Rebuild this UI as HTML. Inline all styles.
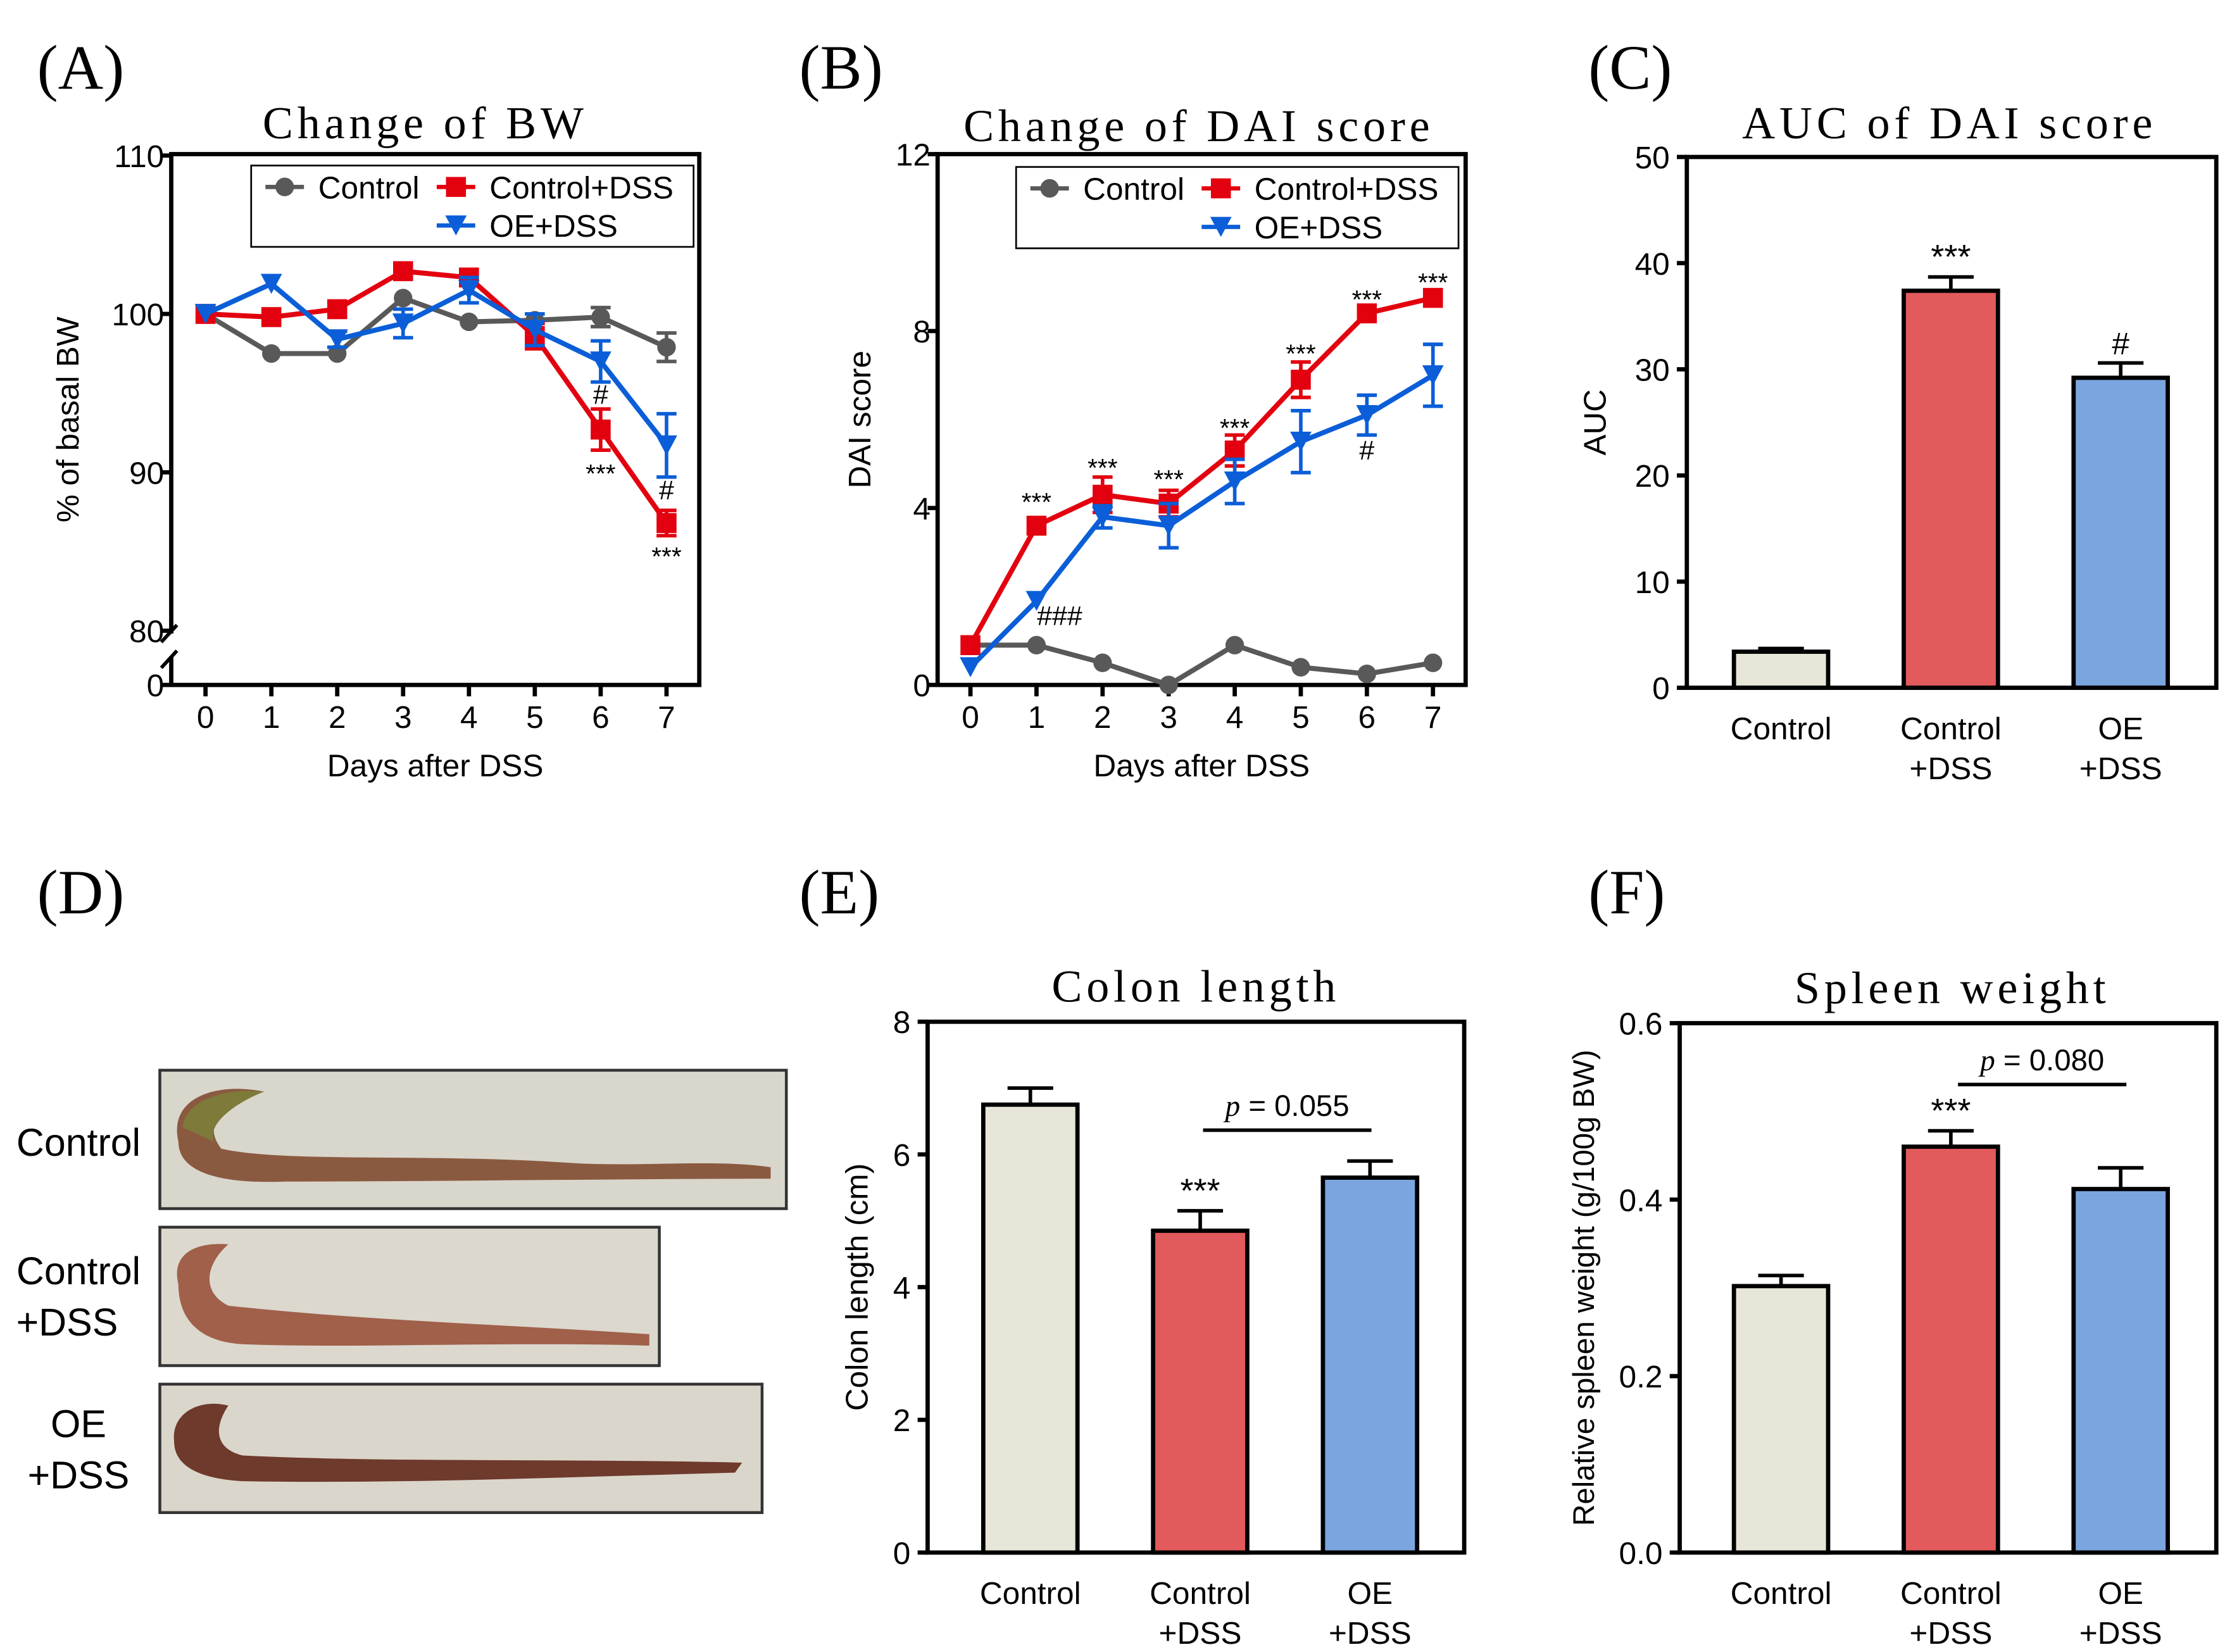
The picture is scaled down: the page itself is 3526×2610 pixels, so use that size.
<!DOCTYPE html>
<html><head><meta charset="utf-8"><style>
html,body{margin:0;padding:0;background:#fff}
svg{display:block}
text{font-family:"Liberation Sans",sans-serif;fill:#000}
.serif{font-family:"Liberation Serif",serif}
</style></head><body>
<svg id="fig" width="3526" height="2610" viewBox="0 0 1564 1157.7" xmlns="http://www.w3.org/2000/svg">
<g>
  <text x="55" y="810" font-size="27" text-anchor="middle">Control</text>
  <text x="55" y="900" font-size="27" text-anchor="middle">Control</text>
  <text x="47" y="936" font-size="27" text-anchor="middle">+DSS</text>
  <text x="55" y="1007" font-size="27" text-anchor="middle">OE</text>
  <text x="55" y="1043" font-size="27" text-anchor="middle">+DSS</text>
  <g>
    <rect x="112" y="750" width="439" height="97" fill="#d9d6cc" stroke="#333" stroke-width="2"/>
    <path d="M125 800 C118 770,150 758,185 765 C160 775,140 785,155 805 C200 815,300 808,400 815 C450 818,500 812,540 818 L540 826 C450 826,300 828,200 828 C150 830,125 820,125 800Z" fill="#8a5a40"/>
    <path d="M128 790 C130 770,160 762,185 765 C160 775,145 790,150 800Z" fill="#7d7a3a"/>
  </g>
  <g>
    <rect x="112" y="860" width="350" height="97" fill="#dcd8ce" stroke="#333" stroke-width="2"/>
    <path d="M125 900 C120 880,135 870,160 872 C145 885,140 905,160 915 C250 925,350 928,455 935 L455 943 C350 940,250 945,170 942 C135 940,125 920,125 900Z" fill="#a0604a"/>
  </g>
  <g>
    <rect x="112" y="970" width="422" height="90" fill="#dbd6cb" stroke="#333" stroke-width="2"/>
    <path d="M122 1010 C120 990,140 980,160 985 C150 1000,150 1015,170 1020 C270 1025,400 1022,520 1025 L515 1032 C400 1035,280 1040,170 1038 C135 1036,122 1025,122 1010Z" fill="#6e3a2c"/>
  </g>
</g>
</svg>
<script>
const NS="http://www.w3.org/2000/svg";
const svg=document.getElementById('fig');
// ---------- data ----------
const days=[0,1,2,3,4,5,6,7];
const bwControl=[100,97.5,97.5,101,99.5,99.6,99.8,97.9];
const bwControlErr=[0,0,0,0,0,0,0.6,0.9];
const bwDSS=[100,99.8,100.3,102.7,102.3,98.6,92.7,86.8];
const bwDSSErr=[0,0,0,0,0.5,0.8,1.3,0.8];
const bwOE=[100,101.9,98.4,99.4,101.5,99.0,97.0,91.7];
const bwOEErr=[0,0,0.5,0.9,0.8,1.0,1.3,2.0];
const bwTicks=[80,90,100,110];
const daiControl=[0.9,0.9,0.5,0,0.9,0.4,0.25,0.5];
const daiDSS=[0.9,3.6,4.3,4.1,5.3,6.9,8.4,8.75];
const daiDSSErr=[0,0,0.4,0.3,0.35,0.4,0,0];
const daiOE=[0.4,1.9,3.8,3.6,4.6,5.5,6.1,7.0];
const daiOEErr=[0,0,0.25,0.5,0.5,0.7,0.45,0.7];
const daiTicks=[0,4,8,12];
const groups=["Control","Control+DSS","OE+DSS"];
const aucVals=[3.4,37.4,29.2];
const aucErr=[0.3,1.3,1.4];
const aucTicks=[0,10,20,30,40,50];
const colonVals=[6.75,4.85,5.65];
const colonErr=[0.25,0.3,0.25];
const colonTicks=[0,2,4,6,8];
const spleenVals=[0.302,0.46,0.412];
const spleenErr=[0.012,0.018,0.024];
const spleenTicks=[0.0,0.2,0.4,0.6];
const GRAY="#595959",RED="#e3000f",BLUE="#0b5ed7";
const BAR=["#e8e6d8","#e25a5c","#7aa5df"];

function el(tag,attrs,parent,txt){const e=document.createElementNS(NS,tag);for(const k in attrs)e.setAttribute(k,attrs[k]);if(txt!==undefined)e.textContent=txt;(parent||svg).appendChild(e);return e;}
function grp(name){const g=el('g',{});return g;}
function txt(g,x,y,s,size,name,anchor,cls){const t=el('text',{x:x,y:y,'font-size':size,'text-anchor':anchor||'middle'},g,s);if(cls)t.setAttribute('class',cls);return t;}
function line(g,x1,y1,x2,y2,c,w,name){const l=el('line',{x1:x1,y1:y1,x2:x2,y2:y2,stroke:c,'stroke-width':w},g);return l;}
function panelLabel(x,y,L){const g=grp('panel-label-'+L.toLowerCase());txt(g,x,y,'('+L+')',44,'panel-label-text','start','serif');}
function title(x,y,s,name){const g=grp(name);const t=txt(g,x,y,s,32,'title-text','middle','serif');t.setAttribute('letter-spacing','3');}

function marker(g,type,x,y,c,name){let m;
 if(type==='o')m=el('circle',{cx:x,cy:y,r:6.5,fill:c},g);
 else if(type==='s')m=el('rect',{x:x-7,y:y-7,width:14,height:14,fill:c},g);
 else m=el('path',{d:`M${x-7.5} ${y-7}L${x+7.5} ${y-7}L${x} ${y+7}Z`,fill:c},g);
 }

function lineChart(o){
 const g=grp(o.name);
 const X=d=>o.x0+d*o.dx;
 const f=el('rect',{x:o.L,y:o.T,width:o.R-o.L,height:o.B-o.T,fill:'none',stroke:'#000','stroke-width':3},g);
 
 o.ticks.forEach(t=>{const y=o.Y(t);line(g,o.L-7,y,o.L,y,'#000',3,'y-tick');txt(g,o.L-5,y+8,String(t),22,'y-tick-label','end');});
 days.forEach(d=>{line(g,X(d),o.B,X(d),o.B+8,'#000',3,'x-tick');txt(g,X(d),o.B+30,String(d),22,'x-tick-label');});
 txt(g,(o.L+o.R)/2,o.B+64,'Days after DSS',22,'x-axis-title');
 const yl=txt(g,0,0,o.ylab,22,'y-axis-title');yl.setAttribute('transform',`translate(${o.ylx},${(o.T+o.B)/2}) rotate(-90)`);
 o.series.forEach(s=>{
  const sg=el('g',{},g);
  const pts=s.v.map((v,i)=>X(days[i])+','+o.Y(v)).join(' ');
  const pl=el('polyline',{points:pts,fill:'none',stroke:s.c,'stroke-width':3.5},sg);
  
  s.v.forEach((v,i)=>{const e=s.e?s.e[i]:0;if(e>0){const x=X(days[i]);line(sg,x,o.Y(v+e),x,o.Y(v-e),s.c,2.5,'error-bar');line(sg,x-7,o.Y(v+e),x+7,o.Y(v+e),s.c,2.5,'error-cap');line(sg,x-7,o.Y(v-e),x+7,o.Y(v-e),s.c,2.5,'error-cap');}
   marker(sg,s.m,X(days[i]),o.Y(v),s.c,'point-'+s.key+'-day'+days[i]);});
 });
 const lg=grp('legend');g.appendChild(lg);
 const lb=el('rect',{x:o.lgx,y:o.lgy,width:310,height:57,fill:'#fff',stroke:'#000','stroke-width':1.2},lg);
 
 [[o.lgx+10,o.lgy+15,GRAY,'o','Control'],[o.lgx+130,o.lgy+15,RED,'s','Control+DSS'],[o.lgx+130,o.lgy+42,BLUE,'v','OE+DSS']].forEach(([x,y,c,m,n])=>{
  const eg=el('g',{},lg);
  line(eg,x,y,x+27,y,c,3,'legend-line');marker(eg,m,x+13.5,y,c,'legend-marker');txt(eg,x+37,y+8,n,22,'legend-label','start');});
 (o.ann||[]).forEach(a=>txt(g,X(a[0]),a[1],a[2],a[2].indexOf('*')>=0?18:19,'significance-mark'));
 return g;
}
panelLabel(26,62,'A');title(298,97,'Change of BW','title-bw');
const YA=v=>v>=80?220-(v-100)*11.1:480;
const gA=lineChart({name:'chart-body-weight',L:120,R:490,T:108,B:480,x0:144,dx:46.15,Y:YA,ticks:bwTicks,ylab:'% of basal BW',ylx:55,
 series:[{key:'control',v:bwControl,e:bwControlErr,c:GRAY,m:'o'},{key:'control-dss',v:bwDSS,e:bwDSSErr,c:RED,m:'s'},{key:'oe-dss',v:bwOE,e:bwOEErr,c:BLUE,m:'v'}],
 lgx:176,lgy:116,ann:[[6,283,'#'],[6,338,'***'],[7,350,'#'],[7,396,'***']]});
line(gA,113,480,120,480,'#000',3,'y-tick');txt(gA,115,488,'0',22,'y-tick-label','end');
{const b=el('rect',{x:114,y:444,width:12,height:16,fill:'#fff'},gA);
 line(gA,113,450,124,438,'#000',2.5,'axis-break-mark');line(gA,113,468,124,456,'#000',2.5,'axis-break-mark');}
panelLabel(560,62,'B');title(840,99,'Change of DAI score','title-dai');
const YB=v=>480-v*31;
lineChart({name:'chart-dai-score',L:657,R:1027,T:108,B:480,x0:680,dx:46.3,Y:YB,ticks:daiTicks,ylab:'DAI score',ylx:610,
 series:[{key:'control',v:daiControl,c:GRAY,m:'o'},{key:'control-dss',v:daiDSS,e:daiDSSErr,c:RED,m:'s'},{key:'oe-dss',v:daiOE,e:daiOEErr,c:BLUE,m:'v'}],
 lgx:712,lgy:117,ann:[[1,358,'***'],[2,334,'***'],[3,342,'***'],[4,306,'***'],[5,254,'***'],[6,216,'***'],[7,204,'***'],[6,322,'#'],[1.35,438,'###']]});

function barChart(o){
 const g=grp(o.name);
 o.ticks.forEach(t=>{const y=o.Y(t);line(g,o.L-7,y,o.L,y,'#000',3,'y-tick');txt(g,o.L-12,y+8,o.fmt(t),22,'y-tick-label','end');});
 const yl=txt(g,0,0,o.ylab,o.ylsize||22,'y-axis-title');yl.setAttribute('transform',`translate(${o.ylx},${(o.T+o.B)/2}) rotate(-90)`);
 o.vals.forEach((v,i)=>{const cx=o.c0+i*119,w=66;const bg=el('g',{},g);
  const yt=o.Y(v+o.err[i]);line(bg,cx,yt,cx,o.Y(v),'#000',2.5,'error-bar');line(bg,cx-16,yt,cx+16,yt,'#000',2.5,'error-cap');
  const r=el('rect',{x:cx-w/2,y:o.Y(v),width:w,height:o.B-o.Y(v),fill:BAR[i],stroke:'#000','stroke-width':3},bg);
  const parts=groups[i]==='Control'?['Control']:[groups[i].split('+')[0],'+DSS'];
  parts.forEach((p,k)=>txt(g,cx,o.B+36+k*28,p,22,'x-tick-label'));
  if(o.stars&&o.stars[i])txt(g,cx,yt-6,o.stars[i],o.stars[i]==='#'?22:24,'significance-mark');});
 const ax=el('path',{d:`M${o.L} ${o.T}H${o.R}V${o.B}H${o.L}Z`,fill:'none',stroke:'#000','stroke-width':3},g);
 if(o.p){line(g,o.p[0],o.p[2],o.p[1],o.p[2],'#000',2.5,'comparison-line');
  const t=txt(g,(o.p[0]+o.p[1])/2,o.p[2]-10,'',21,'p-value-label');el('tspan',{'font-style':'italic',class:'serif'},t,'p');el('tspan',{},t,' = '+o.p[3]);}
 return g;
}
panelLabel(1113,62,'C');title(1366,97,'AUC of DAI score','title-auc');
barChart({name:'chart-auc',L:1182,R:1553,T:110,B:482,c0:1248,Y:v=>482-v*7.44,ticks:aucTicks,fmt:t=>String(t),vals:aucVals,err:aucErr,ylab:'AUC',ylx:1125,stars:['','***','#']});
panelLabel(26,640,'D');
panelLabel(560,640,'E');title(838,702,'Colon length','title-colon');
barChart({name:'chart-colon-length',L:650,R:1026,T:716,B:1088,c0:722,Y:v=>1088-v*46.5,ticks:colonTicks,fmt:t=>String(t),vals:colonVals,err:colonErr,ylab:'Colon length (cm)',ylx:608,stars:['','***',''],p:[843,961,792,'0.055']});
panelLabel(1113,640,'F');title(1368,703,'Spleen weight','title-spleen');
barChart({name:'chart-spleen-weight',L:1177,R:1553,T:717,B:1088,c0:1248,Y:v=>1088-v*618.3,ticks:spleenTicks,fmt:t=>t.toFixed(1),vals:spleenVals,err:spleenErr,ylab:'Relative spleen weight (g/100g BW)',ylsize:21,ylx:1117,stars:['','***',''],p:[1372,1490,760,'0.080']});
</script>
</body></html>
